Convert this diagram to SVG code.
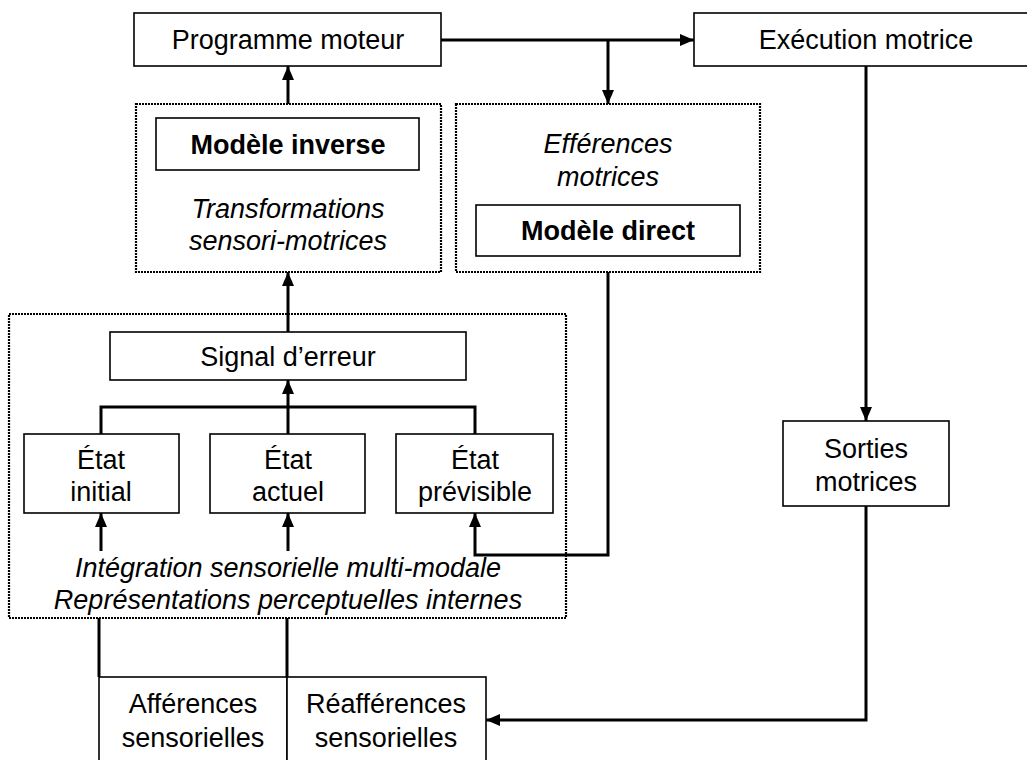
<svg xmlns="http://www.w3.org/2000/svg" width="1027" height="760" viewBox="0 0 1027 760">
<defs>
<marker id="ah" markerUnits="userSpaceOnUse" markerWidth="14" markerHeight="12" refX="14" refY="6" orient="auto">
<path d="M0,0 L14,6 L0,12 z" fill="#000"/>
</marker>
<style>
.box{fill:#fff;stroke:#000;stroke-width:1.6}
.dot{fill:#fff;stroke:#000;stroke-width:2.2;stroke-dasharray:2 1}
.c{fill:none;stroke:#000;stroke-width:3}
.a{marker-end:url(#ah)}
text{font-family:"Liberation Sans",Arial,sans-serif;font-size:27px;fill:#000;text-anchor:middle}
.b{font-weight:bold}
.i{font-style:italic}
</style>
</defs>
<rect width="1027" height="760" fill="#fff"/>

<g id="transformations">
<rect class="dot" x="136" y="104" width="305" height="168"/>
<text class="i" x="288" y="218">Transformations</text>
<text class="i" x="288" y="250">sensori-motrices</text>
</g>
<g id="modele-inverse">
<rect class="box" x="156" y="118" width="263" height="52"/>
<text class="b" x="288" y="154">Modèle inverse</text>
</g>
<g id="efferences">
<rect class="dot" x="456" y="104" width="304" height="168"/>
<text class="i" x="608" y="153">Efférences</text>
<text class="i" x="608" y="186">motrices</text>
</g>
<g id="modele-direct">
<rect class="box" x="476" y="205" width="264" height="51"/>
<text class="b" x="608" y="240">Modèle direct</text>
</g>
<g id="integration">
<rect class="dot" x="9" y="314" width="557" height="304"/>
<text class="i" x="288" y="577">Intégration sensorielle multi-modale</text>
<text class="i" x="288" y="609">Représentations perceptuelles internes</text>
</g>
<g id="programme-moteur">
<rect class="box" x="134" y="13" width="307" height="53"/>
<text x="288" y="49">Programme moteur</text>
</g>
<g id="execution-motrice">
<rect class="box" x="694" y="13" width="345" height="53"/>
<text x="866" y="49">Exécution motrice</text>
</g>
<g id="signal-erreur">
<rect class="box" x="110" y="332" width="356" height="48"/>
<text x="288" y="366">Signal d’erreur</text>
</g>
<g id="etat-initial">
<rect class="box" x="24" y="434" width="155" height="79"/>
<text x="101" y="469">État</text>
<text x="101" y="501">initial</text>
</g>
<g id="etat-actuel">
<rect class="box" x="210" y="434" width="155" height="79"/>
<text x="288" y="469">État</text>
<text x="288" y="501">actuel</text>
</g>
<g id="etat-previsible">
<rect class="box" x="396" y="434" width="157" height="79"/>
<text x="475" y="469">État</text>
<text x="475" y="501">prévisible</text>
</g>
<g id="sorties-motrices">
<rect class="box" x="783" y="421" width="166" height="85"/>
<text x="866" y="458">Sorties</text>
<text x="866" y="491">motrices</text>
</g>
<g id="afferences">
<rect class="box" x="99" y="677" width="188" height="90"/>
<text x="193" y="713">Afférences</text>
<text x="193" y="747">sensorielles</text>
</g>
<g id="reafferences">
<rect class="box" x="287" y="677" width="199" height="90"/>
<text x="386" y="713">Réafférences</text>
<text x="386" y="747">sensorielles</text>
</g>

<g id="connectors">
<path class="c a" d="M441,40 H694"/>
<path class="c a" d="M608,40 V104"/>
<path class="c a" d="M288,104 V66"/>
<path class="c a" d="M288,332 V272"/>
<path class="c" d="M101,434 V407 H475 V434"/>
<path class="c a" d="M288,434 V380"/>
<path class="c a" d="M101,551 V513"/>
<path class="c a" d="M288,551 V513"/>
<path class="c a" d="M608,272 V555 H475 V513"/>
<path class="c a" d="M866,66 V421"/>
<path class="c a" d="M866,506 V720 H486"/>
<path class="c" d="M99,618 V677"/>
<path class="c" d="M287,618 V677"/>
</g>
</svg>
